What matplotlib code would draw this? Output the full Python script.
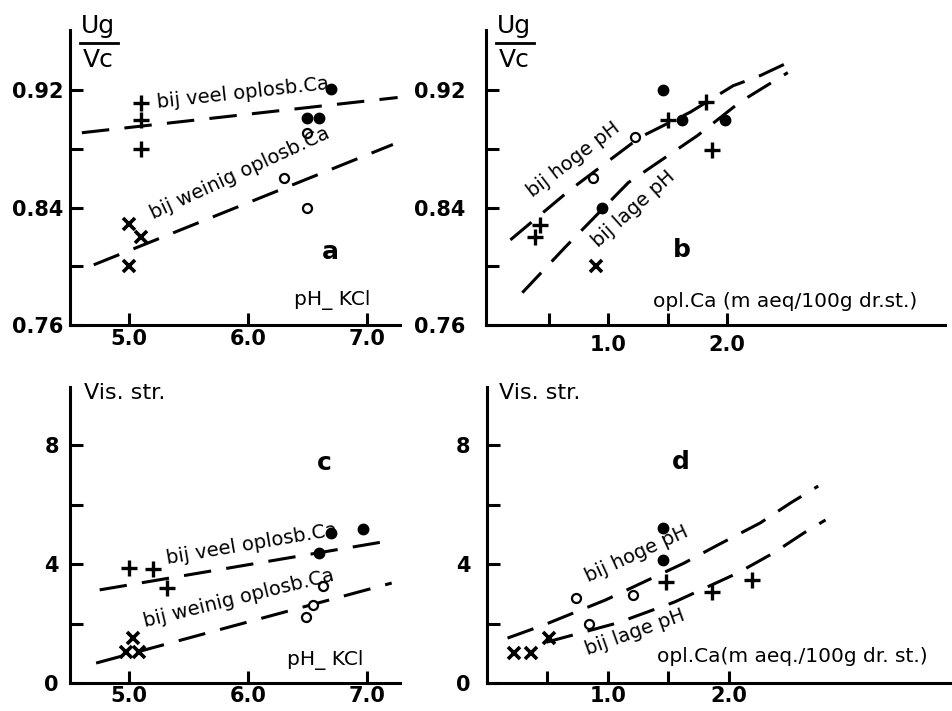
import matplotlib
matplotlib.use("Agg")
import matplotlib.pyplot as plt
from matplotlib.lines import Line2D

plt.rcParams['font.family'] = ['DejaVu Sans']

# ---------------- data ----------------
# panel a : Ug/Vc vs pH-KCl
a_plus_x = [5.1, 5.1, 5.1]
a_plus_y = [0.911, 0.900, 0.880]
a_dot_x = [6.7, 6.5, 6.6]
a_dot_y = [0.921, 0.901, 0.901]
a_open_x = [6.5, 6.3, 6.5]
a_open_y = [0.891, 0.860, 0.840]
a_cross_x = [5.0, 5.1, 5.0]
a_cross_y = [0.829, 0.820, 0.800]
a_hi_x = [4.6, 7.26]
a_hi_y = [0.891, 0.915]
a_lo_x = [4.7, 7.22]
a_lo_y = [0.801, 0.883]

# panel b : Ug/Vc vs opl. Ca
b_plus_x = [1.5, 1.82, 1.87, 0.43, 0.39]
b_plus_y = [0.900, 0.912, 0.879, 0.828, 0.820]
b_dot_x = [1.46, 0.95, 1.98, 1.62]
b_dot_y = [0.920, 0.840, 0.900, 0.900]
b_open_x = [0.87, 1.23]
b_open_y = [0.860, 0.888]
b_cross_x = [0.9]
b_cross_y = [0.800]
b_hi_x = [0.18, 0.68, 1.27, 1.69, 2.05, 2.28, 2.49]
b_hi_y = [0.818, 0.852, 0.888, 0.905, 0.923, 0.930, 0.938]
b_lo_x = [0.28, 0.64, 1.17, 1.75, 2.11, 2.51]
b_lo_y = [0.782, 0.813, 0.857, 0.889, 0.912, 0.932]

# panel c : Vis. str. vs pH-KCl
c_plus_x = [5.0, 5.2, 5.32]
c_plus_y = [3.85, 3.83, 3.2]
c_dot_x = [6.7, 6.97, 6.6]
c_dot_y = [5.04, 5.18, 4.37]
c_open_x = [6.63, 6.55, 6.49]
c_open_y = [3.26, 2.62, 2.22]
c_cross_x = [5.03, 4.97, 5.08]
c_cross_y = [1.5, 1.04, 1.04]
c_hi_x = [4.75, 7.22]
c_hi_y = [3.13, 4.8]
c_lo_x = [4.72, 7.21]
c_lo_y = [0.67, 3.36]

# panel d : Vis. str. vs opl. Ca
d_plus_x = [1.48, 1.86, 2.19]
d_plus_y = [3.4, 3.06, 3.46]
d_dot_x = [1.46, 1.46]
d_dot_y = [5.2, 4.13]
d_open_x = [0.74, 0.84, 1.21]
d_open_y = [2.86, 2.0, 2.96]
d_cross_x = [0.22, 0.36, 0.51]
d_cross_y = [1.0, 1.0, 1.5]
d_hi_x = [0.17, 0.47, 0.98, 1.63, 1.91, 2.26, 2.51, 2.74]
d_hi_y = [1.51, 1.95, 2.79, 4.03, 4.64, 5.38, 6.05, 6.62]
d_lo_x = [0.49, 1.08, 1.55, 2.07, 2.37, 2.62, 2.80]
d_lo_y = [1.37, 2.02, 2.72, 3.69, 4.37, 5.04, 5.48]

ug_ticks = [0.76, 0.80, 0.84, 0.88, 0.92]
ug_labels = ['0.76', '', '0.84', '', '0.92']
vis_ticks = [0, 2, 4, 6, 8]
vis_labels = ['0', '', '4', '', '8']
ph_ticks = [5.0, 6.0, 7.0]
ph_labels = ['5.0', '6.0', '7.0']
ca_ticks = [0.5, 1.0, 1.5, 2.0]
ca_labels = ['', '1.0', '', '2.0']

# ---------------- figure ----------------
W, H = 953, 711
fig = plt.figure(figsize=(W / 100, H / 100), dpi=100)


def px_axes(l, r, t, b):
    return fig.add_axes([l / W, 1 - b / H, (r - l) / W, (b - t) / H])


axa = px_axes(70, 400, 30, 325)
axb = px_axes(486, 945, 30, 325)
axc = px_axes(70, 400, 387, 683)
axd = px_axes(487, 950, 387, 683)

DASH = (0, (9, 5))
ANN = 14
AXT = 14.5


def style(ax, xlim, ylim, xt, xl, yt, yl, ypad, xpad):
    ax.set_xlim(*xlim)
    ax.set_ylim(*ylim)
    for s in ['top', 'right']:
        ax.spines[s].set_visible(False)
    for s in ['left', 'bottom']:
        ax.spines[s].set_linewidth(2.2)
    ax.set_xticks(xt)
    ax.set_xticklabels(xl)
    ax.set_yticks(yt)
    ax.set_yticklabels(yl)
    ax.tick_params(axis='both', direction='in', length=9, width=2.2,
                   labelsize=15)
    ax.tick_params(axis='y', pad=ypad)
    ax.tick_params(axis='x', pad=xpad)
    for lab in ax.get_xticklabels() + ax.get_yticklabels():
        lab.set_fontweight('bold')
    ax.patch.set_alpha(0)


def marks(ax, px, py, dx, dy, ox, oy, cx, cy):
    ax.plot(px, py, linestyle='none', marker='+', ms=11, mew=2.4, color='black')
    ax.plot(dx, dy, linestyle='none', marker='o', ms=7.5, color='black')
    ax.plot(ox, oy, linestyle='none', marker='o', ms=6.5, mfc='white',
            mec='black', mew=1.6)
    ax.plot(cx, cy, linestyle='none', marker='x', ms=8, mew=2.6, color='black')


# panel a
style(axa, (4.5, 7.28), (0.76, 0.961), ph_ticks, ph_labels, ug_ticks, ug_labels, 5, 3)
axa.plot(a_hi_x, a_hi_y, color='black', lw=2.2, linestyle=DASH)
axa.plot(a_lo_x, a_lo_y, color='black', lw=2.2, linestyle=DASH)
marks(axa, a_plus_x, a_plus_y, a_dot_x, a_dot_y, a_open_x, a_open_y, a_cross_x, a_cross_y)
axa.text(5.24, 0.9077, 'bij veel oplosb.Ca', rotation=6.3, rotation_mode='anchor',
         ha='left', va='baseline', fontsize=ANN)
axa.text(5.2, 0.8322, 'bij weinig oplosb.Ca', rotation=24.8, rotation_mode='anchor',
         ha='left', va='baseline', fontsize=ANN)
axa.text(6.39, 0.7736, 'pH_ KCl', ha='left', va='baseline', fontsize=AXT)
axa.text(6.69, 0.81, 'a', ha='center', va='center', fontsize=18, fontweight='bold')

# panel b
style(axb, (-0.025, 3.83), (0.76, 0.961), ca_ticks, ca_labels, ug_ticks, ug_labels, 15, 7)
axb.plot(b_hi_x, b_hi_y, color='black', lw=2.2, linestyle=DASH)
axb.plot(b_lo_x, b_lo_y, color='black', lw=2.2, linestyle=DASH)
marks(axb, b_plus_x, b_plus_y, b_dot_x, b_dot_y, b_open_x, b_open_y, b_cross_x, b_cross_y)
axb.text(0.37, 0.8465, 'bij hoge pH', rotation=37.4, rotation_mode='anchor',
         ha='left', va='baseline', fontsize=ANN)
axb.text(0.916, 0.8124, 'bij lage pH', rotation=42, rotation_mode='anchor',
         ha='left', va='baseline', fontsize=ANN)
axb.text(1.38, 0.7723, 'opl.Ca (m aeq/100g dr.st.)', ha='left', va='baseline',
         fontsize=AXT)
axb.text(1.62, 0.811, 'b', ha='center', va='center', fontsize=18, fontweight='bold')

# panel c
style(axc, (4.5, 7.28), (0, 9.95), ph_ticks, ph_labels, vis_ticks, vis_labels, 8, 2)
axc.plot(c_hi_x, c_hi_y, color='black', lw=2.2, linestyle=DASH)
axc.plot(c_lo_x, c_lo_y, color='black', lw=2.2, linestyle=DASH)
marks(axc, c_plus_x, c_plus_y, c_dot_x, c_dot_y, c_open_x, c_open_y, c_cross_x, c_cross_y)
axc.text(5.32, 4.0, 'bij veel oplosb.Ca', rotation=9.6, rotation_mode='anchor',
         ha='left', va='baseline', fontsize=ANN)
axc.text(5.13, 1.88, 'bij weinig oplosb.Ca', rotation=13.8, rotation_mode='anchor',
         ha='left', va='baseline', fontsize=ANN)
axc.text(6.33, 0.6, 'pH_ KCl', ha='left', va='baseline', fontsize=AXT)
axc.text(6.64, 7.4, 'c', ha='center', va='center', fontsize=18, fontweight='bold')

# panel d
style(axd, (0.0, 3.83), (0, 9.95), ca_ticks, ca_labels, vis_ticks, vis_labels, 12, 2)
axd.plot(d_hi_x, d_hi_y, color='black', lw=2.2, linestyle=DASH)
axd.plot(d_lo_x, d_lo_y, color='black', lw=2.2, linestyle=DASH)
marks(axd, d_plus_x, d_plus_y, d_dot_x, d_dot_y, d_open_x, d_open_y, d_cross_x, d_cross_y)
axd.text(0.835, 3.39, 'bij hoge pH', rotation=24.7, rotation_mode='anchor',
         ha='left', va='baseline', fontsize=ANN)
axd.text(0.835, 0.94, 'bij lage pH', rotation=19.8, rotation_mode='anchor',
         ha='left', va='baseline', fontsize=ANN)
axd.text(1.41, 0.7, 'opl.Ca(m aeq./100g dr. st.)', ha='left', va='baseline',
         fontsize=AXT)
axd.text(1.6, 7.43, 'd', ha='center', va='center', fontsize=18, fontweight='bold')


# y-axis titles (fraction Ug / Vc and Vis. str.)
def fx(x):
    return x / W


def fy(y):
    return 1 - y / H


for x0 in (80, 496):
    fig.text(fx(x0 + 18), fy(26), 'Ug', ha='center', va='center', fontsize=18)
    fig.text(fx(x0 + 18), fy(60), 'Vc', ha='center', va='center', fontsize=18)
    fig.add_artist(Line2D([fx(x0), fx(x0 + 38)], [fy(43), fy(43)], color='black',
                          lw=2.0, transform=fig.transFigure))

fig.text(fx(84), fy(393), 'Vis. str.', ha='left', va='center', fontsize=16)
fig.text(fx(499), fy(393), 'Vis. str.', ha='left', va='center', fontsize=16)

fig.savefig('out.png', dpi=100)
